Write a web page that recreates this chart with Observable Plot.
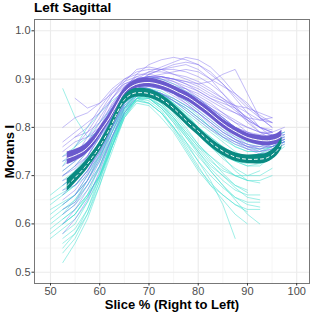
<!DOCTYPE html>
<html>
<head>
<meta charset="utf-8">
<script src="https://cdn.jsdelivr.net/npm/d3@7"></script>
<script src="https://cdn.jsdelivr.net/npm/@observablehq/plot@0.6"></script>
<style>
  html, body { margin: 0; padding: 0; background: #fff; }
  #title { height: 19px; line-height: 17px; padding-left: 34px; font: bold 13.5px "Liberation Sans", Arial, sans-serif; color: #000; }
</style>
</head>
<body>
<div id="title">Left Sagittal</div>
<div id="chart"></div>
<script>
// sample positions (slice %) for individual subject curves
const xs = [50,52.5,55,57.5,60,62.5,65,67.5,70,72.5,75,77.5,80,82.5,85,87.5,90,92.5,95,97.5];

const purpleLines = [
  [null,0.72,0.74,0.76,0.80,0.85,0.88,0.90,0.905,0.90,0.89,0.88,0.865,0.85,0.83,0.81,0.79,0.78,0.775,null],
  [null,0.68,0.70,0.73,0.77,0.83,0.87,0.89,0.895,0.89,0.885,0.87,0.86,0.84,0.82,0.80,0.785,0.77,0.78,0.79],
  [null,null,0.76,0.79,0.83,0.87,0.90,0.915,0.92,0.92,0.925,0.93,0.92,0.90,0.87,0.84,0.81,0.79,0.785,null],
  [null,0.64,0.66,0.70,0.75,0.81,0.86,0.885,0.89,0.885,0.875,0.86,0.845,0.825,0.81,0.79,0.775,0.765,0.76,0.77],
  [null,0.76,0.78,0.80,0.84,0.875,0.895,0.905,0.90,0.895,0.88,0.87,0.855,0.84,0.82,0.80,0.79,0.78,0.78,null],
  [null,null,0.70,0.72,0.76,0.82,0.86,0.88,0.885,0.88,0.87,0.86,0.84,0.82,0.80,0.78,0.765,0.755,0.76,0.775],
  [null,0.80,0.82,0.83,0.85,0.88,0.90,0.91,0.91,0.905,0.90,0.895,0.885,0.87,0.855,0.835,0.815,0.80,0.79,null],
  [null,0.62,0.64,0.68,0.73,0.79,0.845,0.875,0.885,0.88,0.87,0.855,0.835,0.815,0.795,0.775,0.76,0.75,0.755,0.765],
  [null,null,0.74,0.77,0.81,0.86,0.89,0.90,0.905,0.91,0.915,0.92,0.915,0.90,0.885,0.87,0.85,0.82,0.80,null],
  [null,0.70,0.72,0.75,0.79,0.84,0.88,0.91,0.93,0.94,0.945,0.94,0.93,0.91,0.89,0.86,0.83,0.80,0.79,null],
  [null,null,0.72,0.74,0.78,0.83,0.87,0.89,0.90,0.905,0.90,0.895,0.89,0.895,0.91,0.92,0.87,0.82,0.80,null],
  [null,0.66,0.69,0.72,0.76,0.82,0.865,0.89,0.895,0.89,0.88,0.865,0.85,0.83,0.805,0.79,0.78,0.77,0.77,0.78],
  [null,0.74,0.75,0.77,0.80,0.84,0.875,0.89,0.89,0.88,0.865,0.85,0.83,0.81,0.79,0.775,0.76,0.755,0.765,null],
  [null,null,0.68,0.71,0.755,0.81,0.855,0.88,0.885,0.88,0.875,0.865,0.855,0.84,0.825,0.81,0.80,0.79,0.79,0.80],
  [null,0.71,0.73,0.75,0.78,0.83,0.87,0.895,0.90,0.895,0.885,0.875,0.86,0.845,0.83,0.815,0.80,0.79,0.785,0.785],
  [null,0.60,0.63,0.67,0.72,0.78,0.84,0.87,0.88,0.87,0.855,0.84,0.82,0.80,0.78,0.77,0.755,0.745,0.75,null],
  [null,null,0.86,0.84,0.85,0.87,0.89,0.90,0.905,0.90,0.895,0.885,0.875,0.86,0.85,0.84,0.82,0.80,0.79,null],
  [null,0.58,0.61,0.65,0.71,0.78,0.83,0.865,0.875,0.87,0.86,0.845,0.83,0.81,0.79,0.775,0.765,0.76,0.76,0.77],
  [null,0.69,0.70,0.74,0.79,0.845,0.885,0.905,0.915,0.915,0.91,0.905,0.895,0.88,0.86,0.845,0.83,0.815,0.81,null],
  [null,null,0.66,0.69,0.735,0.80,0.85,0.88,0.89,0.885,0.87,0.85,0.83,0.805,0.785,0.77,0.76,0.76,0.77,0.785],
  [null,0.73,0.74,0.78,0.82,0.86,0.895,0.92,0.925,0.92,0.91,0.90,0.89,0.875,0.86,0.84,0.82,0.80,0.795,null],
  [null,0.67,0.68,0.71,0.75,0.80,0.85,0.885,0.90,0.905,0.90,0.89,0.875,0.86,0.845,0.83,0.815,0.80,0.78,0.775],
  [null,null,0.78,0.79,0.81,0.845,0.875,0.895,0.90,0.895,0.885,0.87,0.855,0.835,0.815,0.80,0.79,0.785,0.79,null],
  [null,0.63,0.645,0.69,0.745,0.80,0.855,0.89,0.91,0.92,0.92,0.915,0.905,0.89,0.87,0.845,0.815,0.79,0.775,0.78],
  [null,0.75,0.77,0.78,0.80,0.83,0.86,0.88,0.89,0.89,0.885,0.88,0.87,0.855,0.84,0.83,0.82,0.815,0.82,null],
  [null,null,0.71,0.73,0.77,0.82,0.865,0.895,0.91,0.92,0.93,0.935,0.93,0.915,0.89,0.865,0.84,0.82,0.81,null],
  [null,0.65,0.67,0.705,0.76,0.815,0.86,0.88,0.88,0.87,0.855,0.835,0.815,0.795,0.78,0.765,0.755,0.75,0.755,0.77],
  [null,0.77,0.79,0.81,0.83,0.86,0.885,0.90,0.905,0.905,0.90,0.89,0.88,0.865,0.855,0.845,0.84,0.83,0.82,null],
  [null,null,0.69,0.72,0.765,0.825,0.87,0.895,0.905,0.905,0.895,0.88,0.86,0.84,0.82,0.80,0.785,0.77,0.765,0.775],
  [null,0.70,0.715,0.74,0.78,0.83,0.875,0.90,0.915,0.925,0.935,0.945,0.94,0.925,0.90,0.87,0.845,0.825,0.81,null]
];

const tealLines = [
  [0.64,0.66,0.68,0.71,0.75,0.80,0.85,0.87,0.86,0.84,0.81,0.78,0.75,0.72,0.70,0.68,0.67,null,null,null],
  [null,0.60,0.62,0.66,0.72,0.79,0.85,0.875,0.875,0.86,0.84,0.82,0.80,0.78,0.76,0.745,0.74,0.745,0.76,0.77],
  [null,0.70,0.72,0.75,0.78,0.82,0.86,0.88,0.88,0.87,0.86,0.845,0.83,0.81,0.79,0.775,0.765,0.76,0.77,0.78],
  [0.59,0.61,0.63,0.66,0.70,0.76,0.82,0.85,0.845,0.82,0.79,0.75,0.71,0.68,0.65,0.62,0.60,null,null,null],
  [null,0.52,0.56,0.61,0.68,0.76,0.83,0.86,0.86,0.845,0.82,0.79,0.76,0.73,0.71,0.70,0.70,0.71,null,null],
  [null,0.74,0.76,0.78,0.81,0.84,0.87,0.885,0.88,0.87,0.855,0.84,0.82,0.80,0.78,0.76,0.75,0.75,0.76,0.77],
  [null,0.66,0.68,0.70,0.74,0.79,0.84,0.86,0.85,0.83,0.80,0.77,0.74,0.71,0.68,0.65,0.62,0.60,null,null],
  [null,0.57,0.59,0.63,0.69,0.76,0.83,0.87,0.87,0.855,0.835,0.81,0.785,0.76,0.74,0.73,0.72,0.725,0.74,null],
  [0.62,0.64,0.66,0.69,0.73,0.78,0.83,0.86,0.86,0.84,0.81,0.77,0.73,0.69,0.64,0.57,null,null,null,null],
  [null,0.72,0.76,0.80,0.83,0.855,0.875,0.885,0.885,0.88,0.87,0.86,0.845,0.83,0.81,0.79,0.775,0.77,0.78,0.79],
  [null,0.88,0.82,0.78,0.79,0.82,0.85,0.87,0.87,0.86,0.84,0.82,0.795,0.77,0.75,0.73,0.72,0.72,0.74,null],
  [null,0.63,0.65,0.68,0.72,0.78,0.84,0.87,0.875,0.865,0.85,0.83,0.81,0.79,0.77,0.75,0.735,0.73,0.74,0.76],
  [0.66,0.68,0.70,0.73,0.76,0.80,0.84,0.855,0.85,0.83,0.80,0.76,0.72,0.68,0.66,0.64,0.63,0.63,null,null],
  [null,0.56,0.58,0.62,0.68,0.75,0.82,0.86,0.87,0.86,0.845,0.825,0.80,0.78,0.76,0.74,0.73,0.73,0.75,0.765],
  [null,0.68,0.70,0.73,0.77,0.82,0.87,0.90,0.905,0.90,0.89,0.875,0.86,0.84,0.82,0.80,0.785,0.775,0.78,0.79],
  [null,0.61,0.63,0.66,0.70,0.76,0.82,0.855,0.86,0.845,0.82,0.79,0.76,0.74,0.72,0.70,0.69,0.69,0.70,null],
  [0.60,0.62,0.65,0.69,0.74,0.80,0.85,0.875,0.88,0.87,0.85,0.83,0.80,0.77,0.74,0.71,0.69,0.685,null,null],
  [null,0.71,0.73,0.76,0.80,0.84,0.87,0.88,0.875,0.86,0.84,0.815,0.79,0.77,0.755,0.745,0.74,0.745,0.755,0.77],
  [0.61,0.63,0.645,0.68,0.72,0.78,0.835,0.865,0.87,0.855,0.83,0.80,0.765,0.74,0.715,0.70,0.69,null,null,null],
  [null,0.54,0.57,0.62,0.69,0.77,0.835,0.87,0.875,0.86,0.84,0.815,0.79,0.765,0.745,0.73,0.725,0.73,0.745,null],
  [null,0.67,0.69,0.72,0.76,0.81,0.855,0.875,0.87,0.85,0.82,0.785,0.75,0.715,0.69,0.67,0.66,0.66,null,null],
  [0.65,0.665,0.68,0.71,0.74,0.79,0.84,0.87,0.88,0.875,0.86,0.845,0.825,0.80,0.78,0.765,0.755,0.755,0.765,0.775],
  [null,0.58,0.60,0.645,0.70,0.77,0.825,0.855,0.85,0.83,0.795,0.755,0.715,0.685,0.66,0.64,0.625,null,null,null],
  [null,0.69,0.71,0.74,0.78,0.83,0.87,0.89,0.895,0.885,0.87,0.855,0.835,0.815,0.795,0.78,0.77,0.765,0.77,0.785],
  [0.63,0.645,0.66,0.70,0.745,0.80,0.845,0.865,0.86,0.84,0.815,0.785,0.755,0.725,0.70,0.675,0.655,0.65,null,null],
  [null,0.60,0.62,0.655,0.70,0.765,0.825,0.86,0.87,0.865,0.855,0.84,0.82,0.80,0.785,0.77,0.76,0.755,0.76,0.77],
  [null,0.64,0.66,0.69,0.735,0.795,0.845,0.87,0.865,0.845,0.815,0.78,0.745,0.71,0.68,0.655,0.64,0.635,null,null],
  [null,0.55,0.58,0.63,0.70,0.775,0.84,0.875,0.88,0.87,0.85,0.825,0.80,0.775,0.755,0.74,0.73,0.725,0.735,null],
  [0.58,0.60,0.62,0.655,0.705,0.77,0.83,0.86,0.865,0.85,0.825,0.795,0.765,0.735,0.705,0.68,0.665,null,null,null],
  [null,0.73,0.75,0.77,0.80,0.835,0.865,0.88,0.88,0.87,0.855,0.835,0.815,0.795,0.775,0.76,0.75,0.75,0.76,0.775],
  [null,0.62,0.64,0.67,0.715,0.775,0.83,0.86,0.855,0.835,0.80,0.765,0.73,0.70,0.675,0.655,0.645,0.645,null,null],
  [0.57,0.59,0.61,0.645,0.695,0.76,0.825,0.86,0.87,0.86,0.84,0.815,0.785,0.76,0.735,0.715,0.70,0.70,0.715,null]
];

// smoothed group means with confidence band half-widths
const meanX      = [53.4,55,57,59,60,62,63.6,65,66.5,68,70,72,74,76,78,80,82,84,86,88,90,92,94,96,97];
const purpleMean = [0.736,0.742,0.753,0.775,0.790,0.820,0.849,0.872,0.885,0.891,0.893,0.889,0.882,0.872,0.862,0.848,0.833,0.816,0.801,0.789,0.779,0.774,0.772,0.776,0.782];
const tealMean   = [0.680,0.696,0.718,0.745,0.760,0.797,0.832,0.857,0.869,0.872,0.870,0.862,0.848,0.830,0.810,0.792,0.773,0.757,0.745,0.737,0.734,0.734,0.737,0.752,0.768];
const purpleSE   = [0.013,0.012,0.011,0.010,0.010,0.009,0.009,0.009,0.009,0.009,0.009,0.009,0.009,0.009,0.009,0.009,0.009,0.009,0.009,0.009,0.009,0.010,0.010,0.011,0.012];
const tealSE     = [0.013,0.012,0.011,0.010,0.010,0.009,0.009,0.009,0.009,0.009,0.009,0.009,0.009,0.009,0.009,0.009,0.009,0.009,0.009,0.009,0.009,0.010,0.010,0.011,0.012];

const xTicks = [50,60,70,80,90,100];
const yTicks = [0.5,0.6,0.7,0.8,0.9,1.0];
const xMinor = [55,65,75,85,95];
const yMinor = [0.55,0.65,0.75,0.85,0.95];

const xLabel = "Slice % (Right to Left)";
const yLabel = "Morans I";

function toRows(lines, group) {
  const rows = [];
  lines.forEach((vals, i) => vals.forEach((v, j) => {
    if (v != null) rows.push({id: group + i, x: xs[j], y: v});
  }));
  return rows;
}
const purpleRows = toRows(purpleLines, "p");
const tealRows = toRows(tealLines, "t");
const purpleBand = meanX.map((x, i) => ({x, y: purpleMean[i], lo: purpleMean[i] - purpleSE[i], hi: purpleMean[i] + purpleSE[i]}));
const tealBand = meanX.map((x, i) => ({x, y: tealMean[i], lo: tealMean[i] - tealSE[i], hi: tealMean[i] + tealSE[i]}));

const font = '"Liberation Sans", Arial, sans-serif';

const chart = Plot.plot({
  width: 312,
  height: 293,
  marginTop: 0,
  marginLeft: 34,
  marginRight: 3,
  marginBottom: 29,
  style: {fontFamily: font, background: "#fff", color: "#4d4d4d", overflow: "visible"},
  x: {domain: [46.75, 102.6]},
  y: {domain: [0.4766, 1.0234]},
  marks: [
    Plot.gridX(xMinor, {stroke: "#f0f0f0", strokeOpacity: 1, strokeWidth: 0.6}),
    Plot.gridY(yMinor, {stroke: "#f0f0f0", strokeOpacity: 1, strokeWidth: 0.6}),
    Plot.gridX(xTicks, {stroke: "#ebebeb", strokeOpacity: 1, strokeWidth: 1.1}),
    Plot.gridY(yTicks, {stroke: "#ebebeb", strokeOpacity: 1, strokeWidth: 1.1}),
    Plot.line(tealRows, {x: "x", y: "y", z: "id", stroke: "#40e0d0", strokeOpacity: 0.5, strokeWidth: 1}),
    Plot.line(purpleRows, {x: "x", y: "y", z: "id", stroke: "#7b68ee", strokeOpacity: 0.45, strokeWidth: 1}),
    Plot.areaY(purpleBand, {x: "x", y1: "lo", y2: "hi", fill: "#6a5acd", fillOpacity: 1, curve: "catmull-rom"}),
    Plot.line(purpleBand, {x: "x", y: "y", stroke: "#fff", strokeWidth: 1, curve: "catmull-rom"}),
    Plot.areaY(tealBand, {x: "x", y1: "lo", y2: "hi", fill: "#0a8a82", fillOpacity: 1, curve: "catmull-rom"}),
    Plot.line(tealBand, {x: "x", y: "y", stroke: "#fff", strokeWidth: 1, strokeDasharray: "3,3", curve: "catmull-rom"}),
    Plot.frame({stroke: "#777", strokeWidth: 1}),
    Plot.axisX(xTicks, {tickSize: 2.5, tickPadding: 1.5, fontSize: 11, stroke: "#333", label: null}),
    Plot.axisY(yTicks, {tickSize: 2.5, tickPadding: 1.5, fontSize: 11, stroke: "#333", label: null, tickFormat: d3.format(".1f")}),
    Plot.text([xLabel], {frameAnchor: "bottom", dy: 21, fontSize: 13, fontWeight: "bold", fill: "#000", lineAnchor: "middle"}),
    Plot.text([yLabel], {frameAnchor: "left", dx: -25, rotate: -90, fontSize: 13, fontWeight: "bold", fill: "#000", textAnchor: "middle", lineAnchor: "middle"})
  ]
});
document.getElementById("chart").appendChild(chart);
</script>
</body>
</html>
